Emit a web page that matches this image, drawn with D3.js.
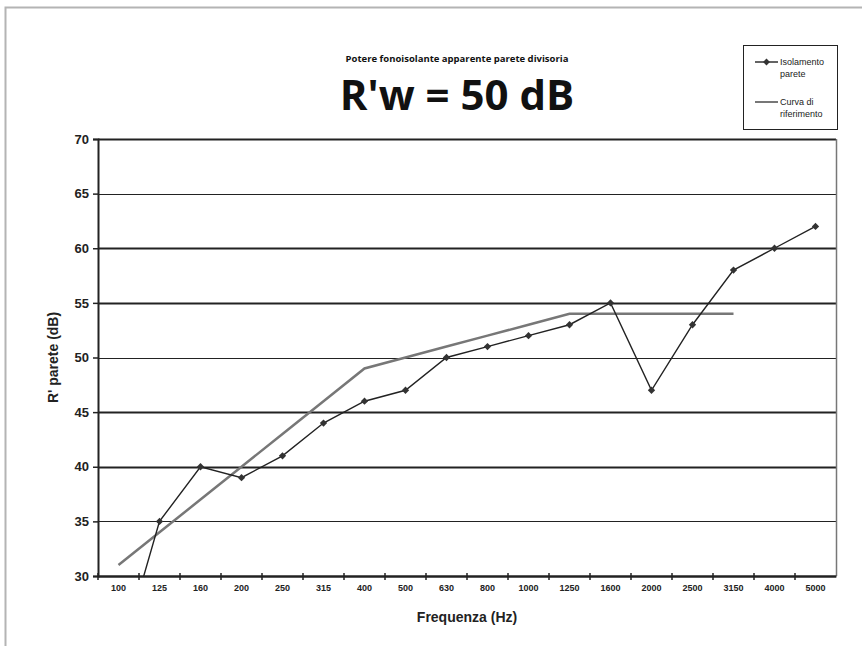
<!DOCTYPE html>
<html>
<head>
<meta charset="utf-8">
<script src="https://cdn.jsdelivr.net/npm/d3@7"></script>
<style>
  body { margin: 0; background: #fff; }
  svg { display: block; }
</style>
</head>
<body>
<div id="container"></div>
<script>
const frequencies = ['100', '125', '160', '200', '250', '315', '400', '500', '630', '800',
    '1000', '1250', '1600', '2000', '2500', '3150', '4000', '5000'];
const isolamento = [22, 35, 40, 39, 41, 44, 46, 47, 50, 51, 52, 53, 55, 47, 53, 58, 60, 62];
const riferimento = [31, 34, 37, 40, 43, 46, 49, 50, 51, 52, 53, 54, 54, 54, 54, 54];
const yTicks = [30, 35, 40, 45, 50, 55, 60, 65, 70];

const width = 862;
const height = 646;
const plotL = 98, plotR = 836, plotT = 139, plotB = 576;

const x = d3.scaleBand().domain(frequencies).range([plotL, plotR]);
const y = d3.scaleLinear().domain([30, 70]).range([plotB, plotT]);
const cx = (d) => x(d) + x.bandwidth() / 2;

const svg = d3.select('#container').append('svg')
    .attr('width', width)
    .attr('height', height);

// outer frame
svg.append('path')
    .attr('d', `M5.5 ${height} V7.5 H${width}`)
    .style('fill', 'none')
    .style('stroke', '#b4b4b4')
    .style('stroke-width', 2);

svg.append('defs').append('clipPath').attr('id', 'plot')
    .append('rect').attr('x', plotL).attr('y', plotT - 10)
    .attr('width', plotR - plotL).attr('height', plotB - plotT + 10);

// gridlines (rendering of source alternates line weights)
svg.append('g').selectAll('line').data(yTicks).enter().append('line')
    .attr('x1', plotL).attr('x2', plotR)
    .attr('y1', (d) => Math.round(y(d)) + 0.5)
    .attr('y2', (d) => Math.round(y(d)) + 0.5)
    .style('stroke', '#222')
    .style('stroke-width', (d, i) => i % 3 === 1 ? 1 : 2);

// right border of plot
svg.append('line')
    .attr('x1', plotR + 0.5).attr('x2', plotR + 0.5)
    .attr('y1', plotT).attr('y2', plotB)
    .style('stroke', '#777')
    .style('stroke-width', 1.5);

// y axis
const yAxis = d3.axisLeft(y).tickValues(yTicks).tickSize(5).tickPadding(4);
const gy = svg.append('g').attr('transform', `translate(${plotL} 0)`).call(yAxis);
gy.select('.domain').style('stroke', '#222').style('stroke-width', 2);
gy.selectAll('.tick line').style('stroke', '#222').style('stroke-width', 1.5);
gy.selectAll('.tick text')
    .style('font-family', '"Liberation Sans", Arial, sans-serif')
    .style('font-weight', 'bold')
    .style('font-size', '13px')
    .style('fill', '#222');

// x axis: ticks between categories
const xAxis = d3.axisBottom(x).tickSize(0).tickPadding(9);
const gx = svg.append('g').attr('transform', `translate(0 ${plotB})`).call(xAxis);
gx.select('.domain').style('stroke', '#222').style('stroke-width', 2);
gx.selectAll('.tick text')
    .style('font-family', '"Liberation Sans", Arial, sans-serif')
    .style('font-weight', 'bold')
    .style('font-size', '9px')
    .style('fill', '#222');
gx.selectAll('.sep').data(frequencies).enter().append('line')
    .attr('class', 'sep')
    .attr('x1', (d) => x(d)).attr('x2', (d) => x(d))
    .attr('y1', -3).attr('y2', 4)
    .style('stroke', '#222')
    .style('stroke-width', 1.5);

// reference curve
svg.append('path')
    .datum(riferimento)
    .attr('clip-path', 'url(#plot)')
    .attr('d', d3.line().x((d, i) => cx(frequencies[i])).y((d) => y(d)))
    .style('fill', 'none')
    .style('stroke', '#777')
    .style('stroke-width', 2.5);

// measured curve
svg.append('path')
    .datum(isolamento)
    .attr('clip-path', 'url(#plot)')
    .attr('d', d3.line().x((d, i) => cx(frequencies[i])).y((d) => y(d)))
    .style('fill', 'none')
    .style('stroke', '#222')
    .style('stroke-width', 1.4);

svg.append('g').attr('clip-path', 'url(#plot)')
    .selectAll('path').data(isolamento).enter().append('path')
    .attr('d', d3.symbol().type(d3.symbolDiamond2).size(34))
    .attr('transform', (d, i) => `translate(${cx(frequencies[i])} ${y(d)})`)
    .style('fill', '#333');

// titles
svg.append('text')
    .attr('x', 457).attr('y', 62)
    .attr('text-anchor', 'middle')
    .style('font-family', '"Open Sans", sans-serif')
    .style('font-weight', 'bold')
    .style('font-size', '9.5px')
    .style('fill', '#111')
    .text('Potere fonoisolante apparente parete divisoria');

svg.append('text')
    .attr('x', 457).attr('y', 110)
    .attr('text-anchor', 'middle')
    .style('font-family', '"Open Sans", sans-serif')
    .style('font-weight', 'bold')
    .style('font-size', '42px')
    .style('fill', '#111')
    .text("R'w = 50 dB");

// axis titles
svg.append('text')
    .attr('transform', `translate(58 ${(plotT + plotB) / 2}) rotate(-90)`)
    .attr('text-anchor', 'middle')
    .style('font-family', '"Liberation Sans", Arial, sans-serif')
    .style('font-weight', 'bold')
    .style('font-size', '14px')
    .style('fill', '#222')
    .text("R' parete (dB)");

svg.append('text')
    .attr('x', 467).attr('y', 622)
    .attr('text-anchor', 'middle')
    .style('font-family', '"Liberation Sans", Arial, sans-serif')
    .style('font-weight', 'bold')
    .style('font-size', '14px')
    .style('fill', '#222')
    .text('Frequenza (Hz)');

// legend
const legend = svg.append('g').attr('transform', 'translate(743 45)');
legend.append('rect')
    .attr('x', 0.5).attr('y', 0.5)
    .attr('width', 94).attr('height', 84)
    .style('fill', '#fff')
    .style('stroke', '#222')
    .style('stroke-width', 1);

const legendItems = [
    { lines: ['Isolamento', 'parete'], color: '#222', w: 1.4, marker: true, y: 17 },
    { lines: ['Curva di', 'riferimento'], color: '#777', w: 2, marker: false, y: 57 }
];
const li = legend.selectAll('g.item').data(legendItems).enter().append('g')
    .attr('transform', (d) => `translate(0 ${d.y})`);
li.append('line')
    .attr('x1', 12).attr('x2', 35)
    .style('stroke', (d) => d.color)
    .style('stroke-width', (d) => d.w);
li.filter((d) => d.marker).append('path')
    .attr('d', d3.symbol().type(d3.symbolDiamond2).size(30))
    .attr('transform', 'translate(23.5 0)')
    .style('fill', '#333');
li.append('text')
    .attr('x', 37).attr('y', 3)
    .style('font-family', '"Liberation Sans", Arial, sans-serif')
    .style('font-size', '9px')
    .style('fill', '#222')
    .selectAll('tspan').data((d) => d.lines).enter().append('tspan')
    .attr('x', 37)
    .attr('dy', (d, i) => i === 0 ? 0 : 11.5)
    .text((d) => d);
</script>
</body>
</html>
